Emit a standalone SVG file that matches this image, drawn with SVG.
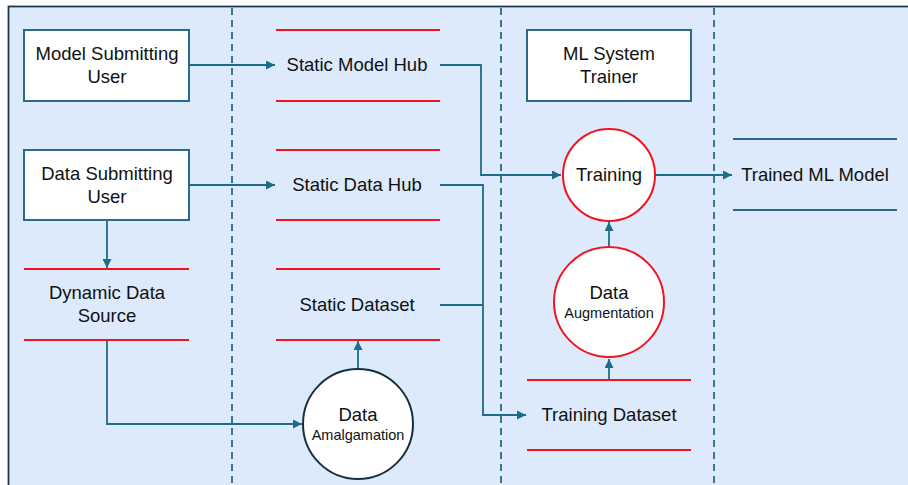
<svg xmlns="http://www.w3.org/2000/svg" width="908" height="485" viewBox="0 0 908 485">
<defs>
<style>
.t{font-family:"Liberation Sans",Arial,sans-serif;font-size:18.5px;fill:#111;text-anchor:middle}
.s{font-family:"Liberation Sans",Arial,sans-serif;font-size:14.5px;fill:#111;text-anchor:middle}
.box{fill:#fff;stroke:#2a6a8c;stroke-width:2}
.red{stroke:#f0141e;stroke-width:2}
.blue{stroke:#2a6a8c;stroke-width:2}
.dash{stroke:#2a6a8c;stroke-width:1.8;stroke-dasharray:7,5}
.c{fill:none;stroke:#1f6b8e;stroke-width:1.8}
.rc{fill:#fff;stroke:#f0141e;stroke-width:2}
.kc{fill:#fff;stroke:#15303f;stroke-width:2}
</style>
<marker id="a" viewBox="0 0 10 10" refX="10" refY="5" markerWidth="5" markerHeight="5" orient="auto" markerUnits="strokeWidth">
<path d="M0,0 L10,5 L0,10 z" fill="#1f6b8e"/>
</marker>
</defs>
<rect x="0" y="0" width="908" height="485" fill="#fff"/>
<rect x="8.5" y="6.5" width="905" height="485" fill="#dceafb" stroke="#1e3a4a" stroke-width="1.8"/>
<g id="lanes">
<line class="dash" x1="232" y1="8" x2="232" y2="485"/>
<line class="dash" x1="501" y1="8" x2="501" y2="485"/>
<line class="dash" x1="714" y1="8" x2="714" y2="485"/>
</g>
<g id="connectors">
<path class="c" d="M189,65 H275" marker-end="url(#a)"/>
<path class="c" d="M189,185 H275" marker-end="url(#a)"/>
<path class="c" d="M107,220 V268" marker-end="url(#a)"/>
<path class="c" d="M107,340 V424 H302" marker-end="url(#a)"/>
<path class="c" d="M358,368 V341" marker-end="url(#a)"/>
<path class="c" d="M440,65 H481 V175 H561" marker-end="url(#a)"/>
<path class="c" d="M440,185 H483 V415 H526" marker-end="url(#a)"/>
<path class="c" d="M440,305 H483"/>
<path class="c" d="M609,246 V222" marker-end="url(#a)"/>
<path class="c" d="M609,380 V359" marker-end="url(#a)"/>
<path class="c" d="M655,175 H732" marker-end="url(#a)"/>
</g>
<g id="model-submitting-user">
<rect class="box" x="24" y="30" width="165" height="71"/>
<text class="t" x="107" y="60">Model Submitting</text>
<text class="t" x="107" y="83">User</text>
</g>
<g id="data-submitting-user">
<rect class="box" x="24" y="150" width="165" height="70"/>
<text class="t" x="107" y="180">Data Submitting</text>
<text class="t" x="107" y="203">User</text>
</g>
<g id="dynamic-data-source">
<line class="red" x1="24" y1="269" x2="189" y2="269"/>
<line class="red" x1="24" y1="340" x2="189" y2="340"/>
<text class="t" x="107" y="299">Dynamic Data</text>
<text class="t" x="107" y="322">Source</text>
</g>
<g id="static-model-hub">
<line class="red" x1="276" y1="30" x2="440" y2="30"/>
<line class="red" x1="276" y1="101" x2="440" y2="101"/>
<text class="t" x="357" y="71">Static Model Hub</text>
</g>
<g id="static-data-hub">
<line class="red" x1="276" y1="150" x2="440" y2="150"/>
<line class="red" x1="276" y1="220" x2="440" y2="220"/>
<text class="t" x="357" y="191">Static Data Hub</text>
</g>
<g id="static-dataset">
<line class="red" x1="276" y1="269" x2="440" y2="269"/>
<line class="red" x1="276" y1="340" x2="440" y2="340"/>
<text class="t" x="357" y="311">Static Dataset</text>
</g>
<g id="data-amalgamation">
<circle class="kc" cx="358" cy="424" r="55"/>
<text class="t" x="358" y="421">Data</text>
<text class="s" x="358" y="440">Amalgamation</text>
</g>
<g id="ml-system-trainer">
<rect class="box" x="527" y="30" width="164" height="71"/>
<text class="t" x="609" y="60">ML System</text>
<text class="t" x="609" y="83">Trainer</text>
</g>
<g id="training">
<circle class="rc" cx="609" cy="175" r="46"/>
<text class="t" x="609" y="181">Training</text>
</g>
<g id="data-augmentation">
<circle class="rc" cx="609" cy="302" r="55"/>
<text class="t" x="609" y="299">Data</text>
<text class="s" x="609" y="318">Augmentation</text>
</g>
<g id="training-dataset">
<line class="red" x1="527" y1="380" x2="691" y2="380"/>
<line class="red" x1="527" y1="450" x2="691" y2="450"/>
<text class="t" x="609" y="421">Training Dataset</text>
</g>
<g id="trained-ml-model">
<line class="blue" x1="733" y1="139" x2="897" y2="139"/>
<line class="blue" x1="733" y1="210" x2="897" y2="210"/>
<text class="t" x="815" y="181">Trained ML Model</text>
</g>
</svg>
